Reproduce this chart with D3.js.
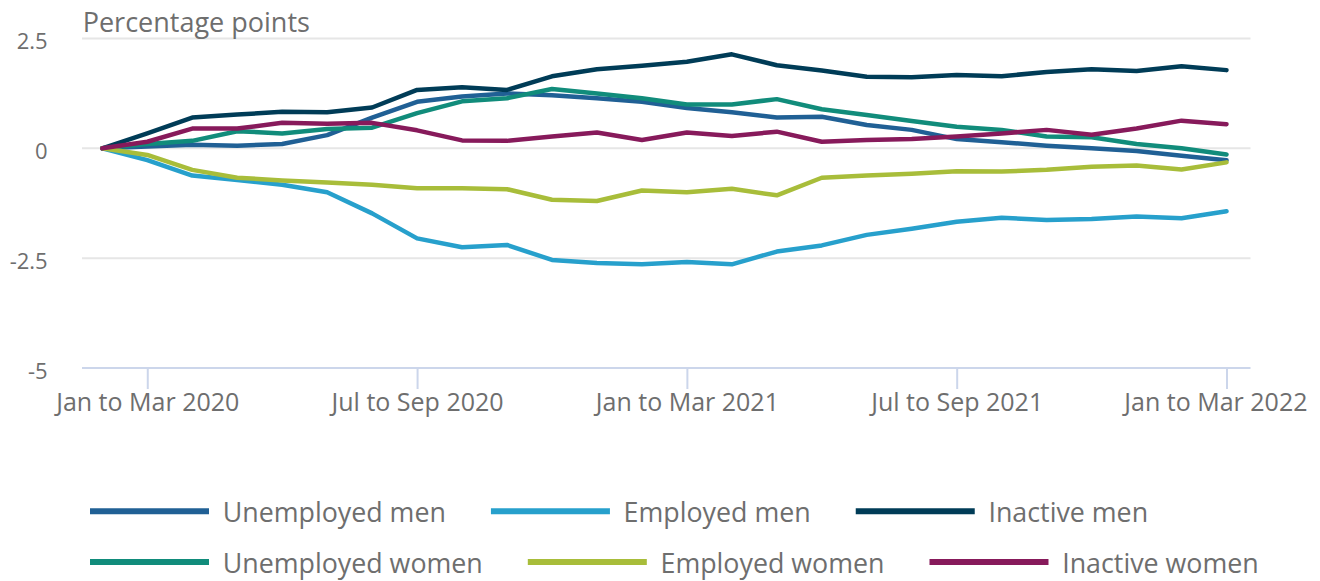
<!DOCTYPE html>
<html>
<head>
<meta charset="utf-8">
<script src="https://cdn.jsdelivr.net/npm/d3@7"></script>
<style>
  body { margin: 0; background: #fff; }
  svg { display: block; font-family: "Open Sans", sans-serif; }
</style>
</head>
<body>
<div id="plot"></div>
<script>
// data (percentage point change since Dec to Feb 2020)

var periods = ["Dec to Feb 2020", "Jan to Mar 2020", "Feb to Apr 2020", "Mar to May 2020",
  "Apr to Jun 2020", "May to Jul 2020", "Jun to Aug 2020", "Jul to Sep 2020", "Aug to Oct 2020",
  "Sep to Nov 2020", "Oct to Dec 2020", "Nov to Jan 2021", "Dec to Feb 2021", "Jan to Mar 2021",
  "Feb to Apr 2021", "Mar to May 2021", "Apr to Jun 2021", "May to Jul 2021", "Jun to Aug 2021",
  "Jul to Sep 2021", "Aug to Oct 2021", "Sep to Nov 2021", "Oct to Dec 2021", "Nov to Jan 2022",
  "Dec to Feb 2022", "Jan to Mar 2022"];

var xTicks = ["Jan to Mar 2020", "Jul to Sep 2020", "Jan to Mar 2021", "Jul to Sep 2021", "Jan to Mar 2022"];
var yTicks = [-5, -2.5, 0, 2.5];

var unemployedMen = [0, 0.04, 0.08, 0.06, 0.10, 0.30, 0.70, 1.06, 1.18, 1.25, 1.21, 1.14, 1.06,
  0.92, 0.82, 0.70, 0.72, 0.53, 0.42, 0.21, 0.14, 0.06, 0.0, -0.06, -0.17, -0.27];
var employedMen = [0, -0.27, -0.62, -0.72, -0.83, -1.0, -1.48, -2.05, -2.25, -2.2, -2.54, -2.61, -2.64,
  -2.59, -2.64, -2.35, -2.21, -1.97, -1.83, -1.67, -1.58, -1.63, -1.61, -1.55, -1.59, -1.43];
var inactiveMen = [0, 0.34, 0.70, 0.77, 0.83, 0.82, 0.93, 1.33, 1.39, 1.33, 1.64, 1.80, 1.88,
  1.97, 2.14, 1.89, 1.77, 1.63, 1.62, 1.67, 1.64, 1.74, 1.80, 1.76, 1.87, 1.78];
var unemployedWomen = [0, 0.10, 0.17, 0.39, 0.34, 0.44, 0.47, 0.80, 1.07, 1.14, 1.35, 1.25, 1.14,
  1.0, 1.0, 1.12, 0.89, 0.76, 0.62, 0.49, 0.42, 0.27, 0.25, 0.10, 0.0, -0.14];
var employedWomen = [0, -0.15, -0.49, -0.67, -0.73, -0.78, -0.83, -0.91, -0.91, -0.93, -1.17, -1.2, -0.96,
  -1.0, -0.92, -1.07, -0.67, -0.62, -0.58, -0.52, -0.53, -0.49, -0.42, -0.39, -0.48, -0.32];
var inactiveWomen = [0, 0.15, 0.45, 0.45, 0.58, 0.56, 0.58, 0.41, 0.18, 0.17, 0.27, 0.36, 0.19,
  0.36, 0.28, 0.38, 0.15, 0.19, 0.21, 0.27, 0.34, 0.42, 0.31, 0.45, 0.63, 0.55];

var seriesNames = ["Unemployed men", "Employed men", "Inactive men",
  "Unemployed women", "Employed women", "Inactive women"];
var seriesColors = ["#206095", "#27a0cc", "#003c57", "#118c7b", "#a8bd3a", "#871a5b"];
var seriesValues = [unemployedMen, employedMen, inactiveMen, unemployedWomen, employedWomen, inactiveWomen];

var series = seriesNames.map((name, i) => ({name: name, color: seriesColors[i], values: seriesValues[i]}));

// sizes

var w = 1320;
var h = 581;
var plot = {left: 82, right: 1250.5, top: 38.5, bottom: 368};
var textColor = "#6e6e6e";

var xScale = d3.scalePoint()
    .domain(periods)
    .range([102.3, 1226.5]);

var yScale = d3.scaleLinear()
    .domain([-5, 2.5])
    .range([plot.bottom, plot.top]);

var svg = d3.select("div#plot")
  .append("svg")
    .attr("width", w)
    .attr("height", h);

svg.append("rect")
    .attr("width", w)
    .attr("height", h)
    .attr("fill", "white");

// grid lines

svg.append("g")
    .selectAll("line")
    .data(yTicks.filter(d => d > -5))
  .enter().append("line")
    .attr("x1", plot.left)
    .attr("x2", plot.right)
    .attr("y1", d => yScale(d))
    .attr("y2", d => yScale(d))
    .attr("stroke", "#e6e6e6")
    .attr("stroke-width", 2);

// y axis labels (plain hyphen for negatives, as in the original)

var yAxis = d3.axisLeft(yScale)
    .tickValues(yTicks)
    .tickSize(0)
    .tickPadding(0)
    .tickFormat(d => String(d));

var gy = svg.append("g")
    .attr("transform", "translate(47.7,3)")
    .call(yAxis);
gy.select(".domain").remove();
gy.selectAll("text")
    .attr("font-family", "'Open Sans', sans-serif")
    .attr("font-size", "22px")
    .attr("fill", textColor);

svg.append("text")
    .attr("x", 82.7)
    .attr("y", 32)
    .attr("font-size", "27px")
    .attr("fill", textColor)
    .text("Percentage points");

// x axis

svg.append("line")
    .attr("x1", plot.left)
    .attr("x2", plot.right)
    .attr("y1", plot.bottom)
    .attr("y2", plot.bottom)
    .attr("stroke", "#ccd6eb")
    .attr("stroke-width", 2);

var xAxis = d3.axisBottom(xScale)
    .tickValues(xTicks)
    .tickSize(21)
    .tickPadding(4);

var gx = svg.append("g")
    .attr("transform", `translate(0, ${plot.bottom})`)
    .call(xAxis);
gx.select(".domain").remove();
gx.selectAll(".tick line")
    .attr("stroke", "#ccd6eb")
    .attr("stroke-width", 2);
gx.selectAll("text")
    .attr("font-family", "'Open Sans', sans-serif")
    .attr("font-size", "25px")
    .attr("fill", textColor);

// keep the last label inside the chart, like the original does
gx.selectAll("text")
    .filter(d => d === xTicks[xTicks.length - 1])
    .attr("text-anchor", "end")
    .attr("x", 1307 - xScale(xTicks[xTicks.length - 1]));

// lines

var line = d3.line()
    .x((d, i) => xScale(periods[i]))
    .y(d => yScale(d));

svg.append("g")
    .selectAll("path")
    .data(series)
  .enter().append("path")
    .attr("d", d => line(d.values))
    .attr("fill", "none")
    .attr("stroke", d => d.color)
    .attr("stroke-width", 4.5)
    .attr("stroke-linejoin", "round")
    .attr("stroke-linecap", "round");

// legend, two rows of three

var legend = svg.append("g");
var rows = [511.3, 562];

series.forEach(function(s, i) {
    var row = Math.floor(i / 3);
    var item = legend.append("g").attr("class", "row" + row);
    item.append("line")
        .attr("x1", 0)
        .attr("x2", 119)
        .attr("y1", 0)
        .attr("y2", 0)
        .attr("stroke", s.color)
        .attr("stroke-width", 6);
    item.append("text")
        .attr("x", 132.7)
        .attr("y", 11)
        .attr("font-size", "26.8px")
        .attr("fill", textColor)
        .text(s.name);
});

[0, 1].forEach(function(row) {
    var x = 90;
    legend.selectAll(".row" + row).each(function() {
        var g = d3.select(this);
        g.attr("transform", `translate(${x}, ${rows[row]})`);
        x += 132.7 + g.select("text").node().getComputedTextLength() + 45;
    });
});
</script>
</body>
</html>
